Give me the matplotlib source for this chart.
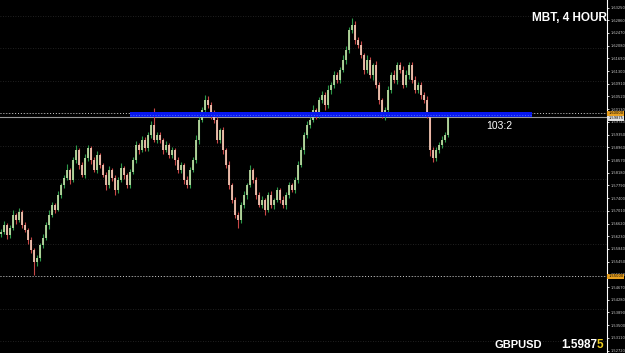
import matplotlib.pyplot as plt
import matplotlib.transforms as mtransforms

# GBPUSD H4 closes (one per bar)
closes = [
    1.5636, 1.5658, 1.5627, 1.5648, 1.5688, 1.5673, 1.5697, 1.5658, 1.5642, 1.5612, 1.5581, 1.5544,
    1.5556, 1.5596, 1.5618, 1.5658, 1.5688, 1.5719, 1.5704, 1.5750,
    1.5780, 1.5802, 1.5826, 1.5796, 1.5857, 1.5888, 1.5842, 1.5811, 1.5863, 1.5894, 1.5857, 1.5826, 1.5872, 1.5842,
    1.5811, 1.5780, 1.5826, 1.5802, 1.5765, 1.5796, 1.5832, 1.5811, 1.5780, 1.5820, 1.5857,
    1.5903, 1.5888, 1.5918, 1.5894, 1.5934, 1.5964, 1.5918, 1.5934,
    1.5918, 1.5888, 1.5903, 1.5872, 1.5888, 1.5857, 1.5826, 1.5842, 1.5796, 1.5780,
    1.5826, 1.5857, 1.5918, 1.5980, 1.6010, 1.6041, 1.6026, 1.5995,
    1.5980, 1.5918, 1.5949, 1.5888, 1.5842, 1.5780, 1.5734, 1.5688, 1.5673,
    1.5719, 1.5750, 1.5780, 1.5826, 1.5796, 1.5750, 1.5719, 1.5734, 1.5704, 1.5750,
    1.5719, 1.5734, 1.5765, 1.5734, 1.5719, 1.5750, 1.5780, 1.5765, 1.5796, 1.5842,
    1.5888, 1.5934, 1.5964, 1.5980, 1.6010, 1.5995, 1.6041,
    1.6057, 1.6026, 1.6072, 1.6087, 1.6118, 1.6103, 1.6133, 1.6164, 1.6195,
    1.6256, 1.6271, 1.6225,
    1.6210, 1.6179, 1.6133, 1.6164, 1.6118, 1.6149, 1.6087, 1.6041, 1.5995,
    1.6010, 1.6072, 1.6118, 1.6103, 1.6149, 1.6133, 1.6087,
    1.6118, 1.6149, 1.6103, 1.6072, 1.6087, 1.6057, 1.6041,
    1.5995, 1.5888, 1.5863, 1.5888, 1.5903, 1.5918, 1.5934, 1.59875,
]
first_open = 1.5630

# wick lengths in pips above / below the candle body
upper_wick_pips = [
    8, 12, 6, 10, 15, 7, 12, 5, 9, 6,
    8, 5, 10, 6, 12, 8, 14, 9, 6, 11,
    7, 10, 18, 6, 9, 15, 5, 8, 12, 10,
    6, 9, 14, 7, 5, 10, 12, 6, 8, 9,
    15, 7, 6, 10, 8, 12, 6, 14, 9, 10,
    12, 53, 8, 10, 6, 12, 7, 9, 5, 10,
    8, 6, 12, 10, 8, 15, 10, 9, 16, 12,
    8, 14, 10, 6, 9, 7, 12, 5, 8, 10,
    9, 12, 7, 15, 6, 10, 8, 12, 5, 9,
    11, 7, 10, 6, 12, 8, 9, 7, 10, 12,
    8, 10, 12, 9, 15, 7, 10, 12, 8, 14,
    9, 12, 10, 8, 15, 12, 10, 22, 14, 9,
    12, 8, 15, 10, 7, 12, 9, 6, 10, 12,
    8, 14, 10, 9, 12, 15, 10, 8, 12, 9,
    10, 8, 12, 6, 9, 10, 8, 12, 9, 6,
]
lower_wick_pips = [
    10, 6, 12, 8, 5, 14, 7, 10, 6, 12,
    9, 40, 12, 8, 10, 6, 12, 7, 9, 5,
    10, 8, 6, 12, 7, 9, 14, 6, 10, 8,
    12, 7, 9, 10, 6, 15, 8, 10, 14, 9,
    6, 12, 8, 10, 7, 9, 12, 6, 10, 8,
    9, 6, 10, 8, 12, 7, 10, 8, 14, 10,
    9, 12, 8, 10, 6, 9, 12, 7, 10, 8,
    12, 8, 10, 9, 14, 10, 12, 8, 10, 25,
    10, 8, 12, 6, 9, 12, 7, 10, 15, 8,
    10, 12, 6, 9, 8, 12, 10, 7, 9, 10,
    8, 12, 10, 9, 7, 12, 8, 10, 14, 9,
    12, 8, 10, 9, 7, 12, 10, 8, 12, 10,
    9, 12, 8, 10, 14, 9, 12, 10, 15, 8,
    10, 9, 12, 8, 10, 7, 12, 9, 10, 8,
    12, 10, 8, 20, 12, 9, 10, 8, 7, 6,
]

price_ticks = [
    1.63250, 1.62860, 1.62470, 1.62080, 1.61690, 1.61300, 1.60910, 1.60520,
    1.60130, 1.59740, 1.59350, 1.58960, 1.58570, 1.58180, 1.57790, 1.57400,
    1.57010, 1.56620, 1.56230, 1.55840, 1.55450, 1.55060, 1.54670, 1.54280,
    1.53890, 1.53500, 1.53110, 1.52720,
]
grid_levels = [1.63, 1.62, 1.61, 1.60, 1.59, 1.58, 1.57, 1.56, 1.55, 1.54, 1.53]
hline_levels = [1.60000, 1.55000]
zone_low, zone_high = 1.5989, 1.6004
zone_label = "103:2"
bid = 1.59875
symbol = "GBPUSD"
title = "MBT, 4 HOUR"

opens = [first_open] + closes[:-1]
highs = [max(o, c) + u * 0.0001 for o, c, u in zip(opens, closes, upper_wick_pips)]
lows = [min(o, c) - l * 0.0001 for o, c, l in zip(opens, closes, lower_wick_pips)]
xs = list(range(len(closes)))

W, H = 625, 353
fig = plt.figure(figsize=(W / 100, H / 100), dpi=100, facecolor='black')
ax = fig.add_axes([0, 0, 607 / W, 1])
ax.set_facecolor('black')
ax.set_xlim(-0.33, 202.0)
ax.set_ylim(1.52645, 1.63482)

# grid (very faint in the reference)
for g in grid_levels:
    ax.axhline(g, color='#2c2c2c', lw=0.6, ls=(0, (1, 2)), zorder=1)

# horizontal user lines
for h in hline_levels:
    ax.axhline(h, color='#c8c8c8', lw=0.7, ls=(0, (1, 2)), zorder=2)

# candles
up_wick, dn_wick = '#2f9a4a', '#c84848'
up_body, dn_body = '#b9d9a0', '#f0c4b0'
wick_cols = [up_wick if c >= o else dn_wick for o, c in zip(opens, closes)]
body_cols = [up_body if c >= o else dn_body for o, c in zip(opens, closes)]
ax.vlines(xs, lows, highs, colors=wick_cols, lw=0.8, zorder=3)
ax.vlines(xs, [min(o, c) for o, c in zip(opens, closes)],
          [max(o, c) for o, c in zip(opens, closes)], colors=body_cols, lw=1.3, zorder=4)

# blue zone
ax.fill_between([43, 177], zone_low, zone_high, color='#0818f0', lw=0, zorder=5)
ax.hlines([(zone_low + zone_high) / 2], 43, 177, colors='#4060ff', lw=0.8,
          linestyles=(0, (1, 1.5)), zorder=6)
ax.text(166, 1.5962, zone_label, color='white', fontsize=7.5, ha='center', va='center',
        family='Liberation Sans', zorder=7)

# bid line
ax.axhline(bid, color='#9a9a9a', lw=0.8, zorder=2)

# right price axis
for side in ['top', 'bottom', 'left']:
    ax.spines[side].set_visible(False)
ax.spines['right'].set_color('white')
ax.spines['right'].set_linewidth(0.8)
ax.xaxis.set_visible(False)
ax.yaxis.tick_right()
ax.set_yticks(price_ticks)
ax.set_yticklabels([f"{v:.5f}" for v in price_ticks])
ax.tick_params(axis='y', colors='white', labelcolor='#c8c8c8', labelsize=2.6,
               length=1.5, width=0.6, pad=0.8)

trans = mtransforms.blended_transform_factory(ax.transAxes, ax.transData)
for h in hline_levels:
    ax.text(1.002, h, f"{h:.5f}", transform=trans, fontsize=2.6, color='black',
            va='center', ha='left', clip_on=False,
            bbox=dict(boxstyle='square,pad=0.2', fc='#e8a020', ec='none'))
ax.text(1.002, bid - 0.0003, f"{bid:.5f}", transform=trans, fontsize=2.6, color='black',
        va='center', ha='left', clip_on=False,
        bbox=dict(boxstyle='square,pad=0.2', fc='#e0e0e0', ec='none'))

# corner texts
fig.text(607 / W, 1 - 18 / H, title, color='white', fontsize=8.5, fontweight='bold',
         family='Liberation Sans', ha='right', va='center')
fig.text(542 / W, 1 - 345 / H, symbol, color='white', fontsize=8, fontweight='bold',
         family='Liberation Sans', ha='right', va='center')
price_txt = f"{bid:.5f}"
t1 = fig.text(561 / W, 1 - 345 / H, price_txt[:-1], color='white', fontsize=8.5,
              fontweight='bold', family='Liberation Sans', ha='left', va='center')
fig.canvas.draw()
bb = t1.get_window_extent()
fig.text(bb.x1 / W, 1 - 345 / H, price_txt[-1], color='#f0d020', fontsize=8.5,
         fontweight='bold', family='Liberation Sans', ha='left', va='center')

fig.savefig('out.png', dpi=100, facecolor='black')
